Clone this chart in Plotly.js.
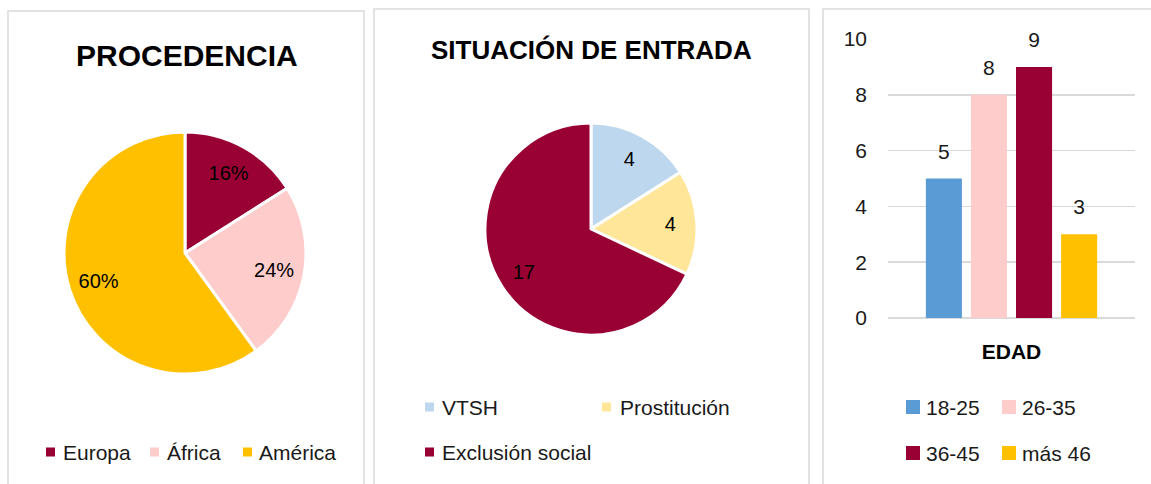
<!DOCTYPE html>
<html>
<head>
<meta charset="utf-8">
<script src="https://cdn.plot.ly/plotly-3.0.1.min.js"></script>
<style>
html,body{margin:0;padding:0;background:#fff;}
#chart{width:1151px;height:484px;}
</style>
</head>
<body>
<div id="chart"></div>
<script>
// ---- data ----
const procTitle = 'PROCEDENCIA';
const procLabels = ['Europa', 'África', 'América'];
const procValues = [4, 6, 15];
const procColors = ['#990033', '#FFCCCC', '#FFC000'];

const sitTitle = 'SITUACIÓN DE ENTRADA';
const sitLabels = ['VTSH', 'Prostitución', 'Exclusión social'];
const sitValues = [4, 4, 17];
const sitColors = ['#BDD7EE', '#FFE699', '#990033'];

const edadCategory = 'EDAD';
const edadLabels = ['18-25', '26-35', '36-45', 'más 46'];
const edadValues = [5, 8, 9, 3];
const edadColors = ['#5B9BD5', '#FFCCCC', '#990033', '#FFC000'];
const yTicks = [0, 2, 4, 6, 8, 10];

// ---- layout helpers (pixel -> paper) ----
const W = 1151, H = 484;
const px = x => x / W;
const py = y => 1 - y / H;
const FONT = 'Liberation Sans, Arial, sans-serif';
const TXT = '#1a1a1a';

// legend placement (layout only)
const procLegendPos = [{sx: 46, tx: 63, y: 452}, {sx: 150, tx: 167, y: 452}, {sx: 243, tx: 259, y: 452}];
const sitLegendPos = [{sx: 425, tx: 442, y: 407}, {sx: 602, tx: 620, y: 407}, {sx: 425, tx: 442, y: 452}];
const edadLegendPos = [{sx: 906, tx: 926, y: 407}, {sx: 1002, tx: 1022, y: 407}, {sx: 906, tx: 926, y: 453}, {sx: 1002, tx: 1022, y: 453}];

const procDomain = {x: [px(64), px(306)], y: [py(374), py(132)]};
const sitDomain = {x: [px(485), px(697)], y: [py(335), py(123)]};

const traces = [];

function addPie(labels, values, colors, domain, textinfo, template, hole) {
  // filled slices
  traces.push({
    type: 'pie', labels: labels, values: values,
    marker: {colors: colors, line: {color: '#ffffff', width: 3}},
    sort: false, direction: 'clockwise', rotation: 0,
    textinfo: 'none', domain: domain, showlegend: false, hoverinfo: 'label+value'
  });
  // transparent ring that carries the data labels at ~0.73 r
  traces.push({
    type: 'pie', labels: labels, values: values,
    marker: {colors: labels.map(() => 'rgba(0,0,0,0)'), line: {width: 0}},
    hole: hole,
    sort: false, direction: 'clockwise', rotation: 0,
    textinfo: textinfo, texttemplate: template,
    textposition: 'inside', insidetextorientation: 'horizontal',
    insidetextfont: {family: FONT, size: 20, color: '#000'},
    domain: domain, showlegend: false, hoverinfo: 'skip'
  });
}
addPie(procLabels, procValues, procColors, procDomain, 'percent', '%{percent:.0%}', 0.5);
addPie(sitLabels, sitValues, sitColors, sitDomain, 'value', '%{value}', 0.5);

edadLabels.forEach((lab, i) => {
  traces.push({
    type: 'bar', name: lab,
    x: [edadCategory], y: [edadValues[i]],
    marker: {color: edadColors[i]},
    offsetgroup: lab, alignmentgroup: 'edad',
    xaxis: 'x', yaxis: 'y', showlegend: false, hoverinfo: 'name+y'
  });
});
edadLabels.forEach((lab, i) => {
  traces.push({
    type: 'scatter', mode: 'markers+text', name: lab,
    x: [edadCategory], y: [edadValues[i]],
    marker: {size: 22, color: 'rgba(0,0,0,0)'},
    text: [String(edadValues[i])], textposition: 'top center',
    textfont: {family: FONT, size: 21, color: TXT},
    offsetgroup: lab, alignmentgroup: 'edad',
    cliponaxis: false, xaxis: 'x', yaxis: 'y', showlegend: false, hoverinfo: 'skip'
  });
});

const shapes = [];
const annotations = [];

// panel borders
[[8, 364, 11], [374, 809, 9], [823, 1160, 9]].forEach(([x0, x1, y0]) => {
  shapes.push({type: 'rect', xref: 'paper', yref: 'paper',
    x0: px(x0), x1: px(x1), y0: py(y0), y1: py(490),
    line: {color: '#D9D9D9', width: 1.5}, fillcolor: 'rgba(0,0,0,0)', layer: 'below'});
});

// titles
annotations.push({xref: 'paper', yref: 'paper', x: px(187), y: py(55), xanchor: 'center', yanchor: 'middle',
  text: '<b>' + procTitle + '</b>', showarrow: false, font: {family: FONT, size: 30, color: '#000'}});
annotations.push({xref: 'paper', yref: 'paper', x: px(591), y: py(50), xanchor: 'center', yanchor: 'middle',
  text: '<b>' + sitTitle + '</b>', showarrow: false, font: {family: FONT, size: 26, color: '#000'}});

// legends
function addLegend(labels, colors, pos, sq) {
  labels.forEach((lab, i) => {
    const p = pos[i];
    shapes.push({type: 'rect', xref: 'paper', yref: 'paper',
      x0: px(p.sx), x1: px(p.sx + sq), y0: py(p.y - sq / 2), y1: py(p.y + sq / 2),
      line: {width: 0}, fillcolor: colors[i]});
    annotations.push({xref: 'paper', yref: 'paper', x: px(p.tx - 2), y: py(p.y), xanchor: 'left', yanchor: 'middle',
      text: lab, showarrow: false, font: {family: FONT, size: 21, color: TXT}});
  });
}
addLegend(procLabels, procColors, procLegendPos, 9);
addLegend(sitLabels, sitColors, sitLegendPos, 9);
addLegend(edadLabels, edadColors, edadLegendPos, 14);

const layout = {
  width: W, height: H,
  margin: {l: 0, r: 0, t: 0, b: 0},
  paper_bgcolor: '#ffffff',
  plot_bgcolor: '#ffffff',
  font: {family: FONT, color: TXT},
  showlegend: false,
  barmode: 'group',
  bargap: 0.27,
  bargroupgap: 0.2,
  scattermode: 'group',
  xaxis: {
    domain: [px(888), px(1135)],
    type: 'category',
    showline: false, showgrid: false, zeroline: false, ticks: '',
    tickfont: {family: FONT, size: 21, color: '#000', weight: 'bold'},
    ticklabelstandoff: 19,
    fixedrange: true
  },
  yaxis: {
    domain: [py(318), py(39)],
    range: [0, 10],
    tickvals: yTicks,
    showline: false, ticks: '',
    showgrid: true, gridcolor: '#D9D9D9', gridwidth: 1.5,
    zeroline: true, zerolinecolor: '#D9D9D9', zerolinewidth: 1.5,
    tickfont: {family: FONT, size: 21, color: TXT},
    ticklabelstandoff: 20,
    fixedrange: true
  },
  shapes: shapes,
  annotations: annotations
};

Plotly.newPlot('chart', traces, layout, {displayModeBar: false, staticPlot: true});
</script>
</body>
</html>
